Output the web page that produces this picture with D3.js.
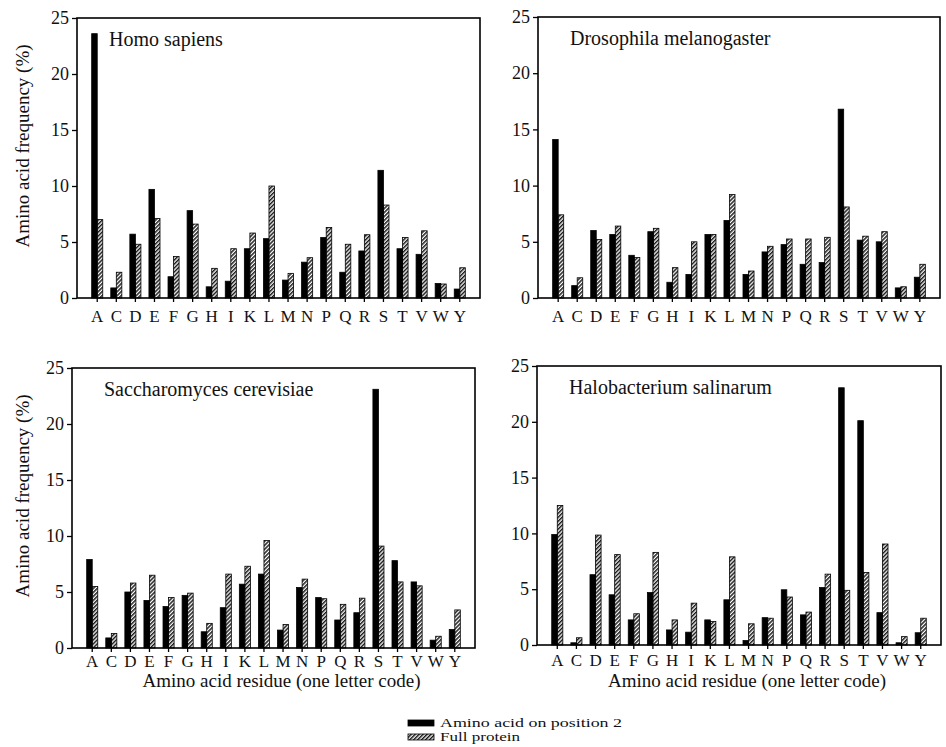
<!DOCTYPE html>
<html>
<head>
<meta charset="utf-8">
<script src="https://cdn.jsdelivr.net/npm/d3@7"></script>
<style>
  body { margin: 0; background: #fff; }
</style>
</head>
<body>
<div id="chart"></div>
<script>
// amino acid residues (one letter code)
var residues = ["A","C","D","E","F","G","H","I","K","L","M","N","P","Q","R","S","T","V","W","Y"];

var species = ["Homo sapiens", "Drosophila melanogaster", "Saccharomyces cerevisiae", "Halobacterium salinarum"];

// frequency (%) of residue on position 2
var homoPos2  = [23.6,0.9,5.7,9.7,1.9,7.8,1.0,1.5,4.4,5.3,1.6,3.2,5.4,2.3,4.2,11.4,4.4,3.9,1.3,0.8];
var drosoPos2 = [14.1,1.1,6.0,5.65,3.8,5.9,1.4,2.1,5.65,6.9,2.1,4.1,4.75,3.0,3.15,16.8,5.15,5.0,0.9,1.85];
var yeastPos2 = [7.9,0.9,5.0,4.25,3.7,4.7,1.45,3.6,5.7,6.6,1.6,5.4,4.5,2.5,3.15,23.1,7.8,5.9,0.7,1.65];
var haloPos2  = [9.9,0.2,6.3,4.5,2.25,4.7,1.35,1.15,2.25,4.05,0.4,2.45,4.95,2.7,5.15,23.05,20.1,2.9,0.2,1.1];

// frequency (%) of residue in full protein
var homoFull  = [7.0,2.3,4.8,7.1,3.7,6.6,2.65,4.4,5.8,10.0,2.2,3.6,6.3,4.8,5.65,8.3,5.4,6.0,1.25,2.7];
var drosoFull = [7.4,1.8,5.2,6.4,3.6,6.2,2.7,5.0,5.65,9.2,2.4,4.6,5.25,5.25,5.4,8.1,5.5,5.9,1.0,3.0];
var yeastFull = [5.5,1.3,5.8,6.5,4.5,4.9,2.2,6.6,7.3,9.6,2.1,6.15,4.4,3.9,4.45,9.1,5.9,5.55,1.05,3.4];
var haloFull  = [12.5,0.65,9.85,8.1,2.8,8.3,2.25,3.75,2.1,7.9,1.9,2.4,4.3,2.95,6.35,4.9,6.5,9.05,0.75,2.4];

var yTicks = [0, 5, 10, 15, 20, 25];
var seriesNames = ["Amino acid on position 2", "Full protein"];

var pos2 = [homoPos2, drosoPos2, yeastPos2, haloPos2];
var full = [homoFull, drosoFull, yeastFull, haloFull];

var serif = "'Liberation Serif', 'DejaVu Serif', 'Times New Roman', serif";

// panel boxes (left, right, top, bottom)
var panels = [
  { x0: 77,  x1: 480, y0: 18,  y1: 298, labDy: 24, yTitle: true,  xTitle: false },
  { x0: 538, x1: 940, y0: 17,  y1: 298, labDy: 24, yTitle: false, xTitle: false },
  { x0: 72,  x1: 475, y0: 368, y1: 648, labDy: 19, yTitle: true,  xTitle: true },
  { x0: 537, x1: 941, y0: 366, y1: 645, labDy: 21, yTitle: false, xTitle: true }
];

var svg = d3.select("#chart").append("svg")
  .attr("width", 946)
  .attr("height", 747)
  .attr("font-family", serif);

svg.append("rect").attr("width", 946).attr("height", 747).attr("fill", "#fff");

// hatch pattern for the full protein bars
var defs = svg.append("defs");
defs.append("pattern")
  .attr("id", "hatch")
  .attr("patternUnits", "userSpaceOnUse")
  .attr("width", 2.8)
  .attr("height", 2.8)
  .attr("patternTransform", "rotate(45)")
  .append("rect")
  .attr("width", 1.5)
  .attr("height", 2.8)
  .attr("fill", "#1a1a1a");

var fills = ["#000", "url(#hatch)"];

panels.forEach(function (p, i) {
  var g = svg.append("g");

  var x = d3.scaleBand()
    .domain(residues)
    .range([p.x0, p.x1])
    .paddingInner(0.42)
    .paddingOuter(0.77);

  var xs = d3.scaleBand()
    .domain([0, 1])
    .range([0, x.bandwidth()]);

  var y = d3.scaleLinear()
    .domain([0, 25])
    .range([p.y1, p.y0]);

  // bars
  var rows = residues.map(function (r, j) {
    return { res: r, vals: [pos2[i][j], full[i][j]] };
  });

  var grp = g.selectAll(".grp")
    .data(rows)
    .enter().append("g")
    .attr("transform", function (d) { return "translate(" + x(d.res) + ",0)"; });

  grp.selectAll("rect")
    .data(function (d) { return d.vals; })
    .enter().append("rect")
    .attr("x", function (d, k) { return xs(k); })
    .attr("y", function (d) { return y(d); })
    .attr("width", xs.bandwidth())
    .attr("height", function (d) { return p.y1 - y(d); })
    .attr("fill", function (d, k) { return fills[k]; })
    .attr("stroke", "#000")
    .attr("stroke-width", 0.8);

  // y axis
  var yAxis = g.append("g")
    .attr("transform", "translate(" + p.x0 + ",0)")
    .call(d3.axisLeft(y).tickValues(yTicks).tickSize(5).tickPadding(3));
  yAxis.attr("font-family", serif);
  yAxis.select(".domain").remove();
  yAxis.selectAll("line").attr("stroke", "#000").attr("stroke-width", 1.3);
  yAxis.selectAll("text").attr("font-size", 18).attr("fill", "#111");

  // x axis
  var xAxis = g.append("g")
    .attr("transform", "translate(0," + p.y1 + ")")
    .call(d3.axisBottom(x).tickSize(4).tickPadding(p.labDy - 16.5));
  xAxis.attr("font-family", serif);
  xAxis.select(".domain").remove();
  xAxis.selectAll("line").attr("stroke", "#000").attr("stroke-width", 1.3);
  xAxis.selectAll("text").attr("font-size", 17).attr("fill", "#111");

  // frame
  g.append("rect")
    .attr("x", p.x0)
    .attr("y", p.y0)
    .attr("width", p.x1 - p.x0)
    .attr("height", p.y1 - p.y0)
    .attr("fill", "none")
    .attr("stroke", "#000")
    .attr("stroke-width", 1.6);

  // species name
  g.append("text")
    .attr("x", p.x0 + 32)
    .attr("y", p.y0 + 28)
    .attr("font-size", 20)
    .attr("fill", "#111")
    .text(species[i]);

  if (p.yTitle) {
    g.append("text")
      .attr("transform", "translate(29," + ((p.y0 + p.y1) / 2 - 12) + ") rotate(-90)")
      .attr("text-anchor", "middle")
      .attr("font-size", 19)
      .attr("fill", "#111")
      .text("Amino acid frequency (%)");
  }
  if (p.xTitle) {
    g.append("text")
      .attr("x", (p.x0 + p.x1) / 2 + 8)
      .attr("y", 687)
      .attr("text-anchor", "middle")
      .attr("font-size", 19)
      .attr("fill", "#111")
      .text("Amino acid residue (one letter code)");
  }
});

// legend
var legend = svg.append("g").attr("transform", "translate(408,0)");
var legendY = [720, 734];
seriesNames.forEach(function (name, k) {
  legend.append("rect")
    .attr("x", 0)
    .attr("y", legendY[k])
    .attr("width", 26)
    .attr("height", 6)
    .attr("fill", fills[k])
    .attr("stroke", "#000")
    .attr("stroke-width", 0.8);
  legend.append("text")
    .attr("x", 32)
    .attr("y", legendY[k] + 7)
    .attr("font-size", 13)
    .attr("fill", "#111")
    .attr("textLength", k === 0 ? 182 : 80)
    .attr("lengthAdjust", "spacingAndGlyphs")
    .text(name);
});
</script>
</body>
</html>
